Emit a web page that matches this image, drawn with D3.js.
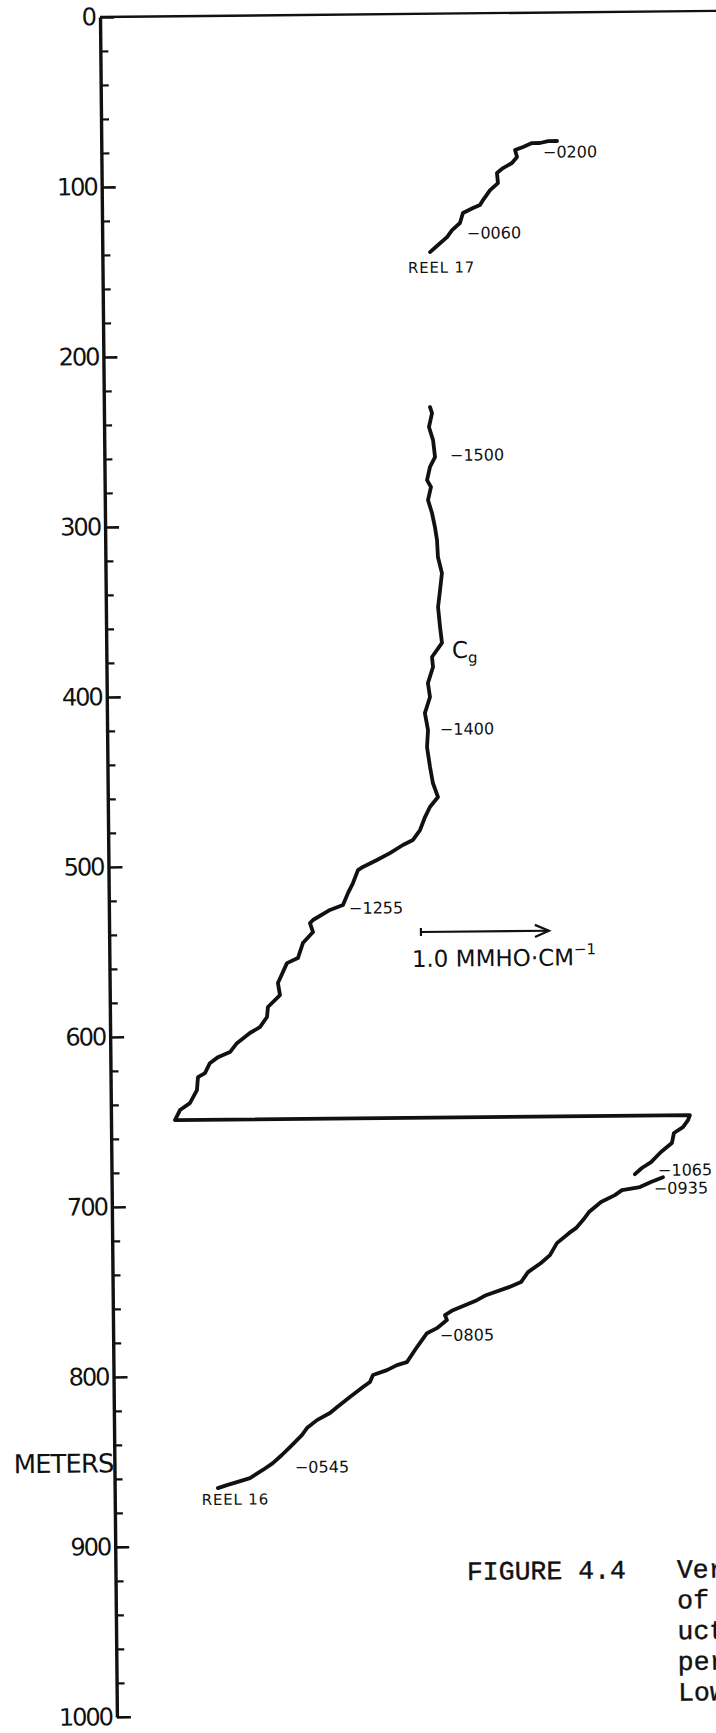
<!DOCTYPE html>
<html>
<head>
<meta charset="utf-8">
<script src="https://cdn.jsdelivr.net/npm/d3@7"></script>
<style>
  html, body { margin: 0; padding: 0; background: #fff; }
  svg { display: block; }
</style>
</head>
<body>
<svg id="chart" width="716" height="1733"></svg>
<script>
// ---- Depth axis (m) ----
const depthMajor = [0, 100, 200, 300, 400, 500, 600, 700, 800, 900, 1000];
const depthMinor = d3.range(20, 1000, 20).filter(d => d % 100 !== 0);

// ---- Conductivity traces: depth (m) and conductivity offset (mmho/cm) ----
// Reel 17, shallow piece
const reel17Depth = [75.6, 75.6, 76.7, 76.7, 78.9, 80.7, 84.8, 88.3, 91.2, 94.1, 100.0, 104.1,
  109.9, 112.8, 114.5, 117.4, 123.3, 127.4, 131.5, 136.1, 140.2];
const reel17Cond = [3.561, 3.491, 3.427, 3.365, 3.295, 3.232, 3.247, 3.207, 3.137, 3.089, 3.096, 3.034,
  2.978, 2.954, 2.899, 2.820, 2.796, 2.734, 2.694, 2.623, 2.560];

// Main trace down to the pen reset at 649 m, then the first reel-16 piece
const mainDepth = [231.4, 234.9, 243.1, 250.8, 260.8, 266.6, 274.3, 278.4, 286.1, 293.7, 302.0, 309.6,
  319.6, 329.1, 339.1, 349.1, 360.8, 370.2, 378.4, 384.3, 393.7, 401.9, 411.4, 421.4, 431.4, 443.1,
  452.5, 460.8, 466.6, 472.5, 480.1, 485.9, 488.8, 493.5, 497.5, 501.5, 503.3, 510.9, 516.8, 523.8,
  526.6, 532.4, 534.2, 539.5, 545.9, 554.7, 557.6, 569.3, 576.4, 583.3, 589.2, 595.1, 598.5, 604.4,
  609.6, 612.5, 616.0, 621.8, 624.1, 631.8, 639.4, 643.4, 649.3, 649.4, 652.3, 656.4, 659.8, 665.7,
  670.9, 676.8, 680.2, 683.8];
const mainCond = [2.548, 2.563, 2.538, 2.569, 2.583, 2.543, 2.519, 2.549, 2.525, 2.555, 2.577, 2.592,
  2.598, 2.628, 2.612, 2.595, 2.609, 2.623, 2.544, 2.551, 2.510, 2.525, 2.484, 2.507, 2.498, 2.520,
  2.541, 2.580, 2.516, 2.477, 2.437, 2.381, 2.302, 2.200, 2.098, 1.988, 1.949, 1.909, 1.869, 1.829,
  1.727, 1.594, 1.570, 1.593, 1.513, 1.473, 1.387, 1.315, 1.330, 1.235, 1.227, 1.171, 1.092, 0.990,
  0.935, 0.841, 0.777, 0.738, 0.683, 0.674, 0.618, 0.540, 0.500, 4.523, 4.508, 4.468, 4.397, 4.380,
  4.294, 4.216, 4.144, 4.089];

// Reel 16, deep piece
const reel16Depth = [685.7, 688.5, 691.4, 693.1, 696.0, 700.0, 705.8, 710.5, 715.2, 718.1, 723.9, 730.9,
  735.5, 740.8, 746.6, 749.5, 754.1, 757.0, 762.7, 765.6, 768.5, 773.2, 776.1, 784.2, 793.0, 794.7,
  797.6, 800.4, 804.5, 807.4, 813.2, 819.1, 822.5, 826.6, 831.2, 835.3, 842.3, 846.9, 851.6, 855.6,
  860.3, 862.6, 864.3, 866.0];
const reel16Cond = [4.308, 4.214, 4.127, 3.987, 3.931, 3.822, 3.727, 3.680, 3.624, 3.569, 3.474, 3.419,
  3.348, 3.246, 3.191, 3.096, 2.916, 2.845, 2.657, 2.594, 2.609, 2.530, 2.452, 2.373, 2.293, 2.215,
  2.137, 2.027, 2.003, 1.948, 1.845, 1.743, 1.688, 1.586, 1.507, 1.467, 1.373, 1.309, 1.238, 1.159,
  1.058, 0.956, 0.877, 0.807];

// ---- Time marks along the traces ----
const timeLabels = ["0200", "0060", "1500", "1400", "1255", "1065", "0935", "0805", "0545"];
const timeDepth = [82.0, 129.2, 259.7, 420.8, 525.6, 681.5, 692.1, 777.3, 854.1];
const timeCond = [3.45, 2.85, 2.70, 2.60, 1.876, 4.27, 4.236, 2.553, 1.41];

const reelLabels = ["REEL 17", "REEL 16"];
const reelDepth = [152.4, 875.9];
const reelCond = [2.386, 0.680];

// Scale bar: 1.0 mmho/cm
const scaleStart = 2.436, scaleLength = 1.0, scaleDepth = 540.1;

// Caption
const captionTitle = "FIGURE 4.4";
const captionLines = ["Ver", "of", "uct", "per", "Low"];

// ---- Scales ----
const y = d3.scaleLinear().domain([0, 1000]).range([17, 1717]);
const x = d3.scaleLinear().domain([0, 1]).range([100, 228]);

const svg = d3.select("#chart");
svg.append("rect").attr("width", 716).attr("height", 1733).attr("fill", "#fff");

// The drafted sheet sits slightly turned on the page
const g = svg.append("g").attr("transform", "rotate(-0.57,100,17)");

const ink = "#111";
const sans = "'DejaVu Sans', sans-serif";

// Top border line
g.append("line")
  .attr("x1", x(0)).attr("x2", x(5.2))
  .attr("y1", y(0)).attr("y2", y(0))
  .attr("stroke", ink).attr("stroke-width", 2.4);

// Minor ticks
const minorAxis = d3.axisLeft(y).tickValues(depthMinor).tickSizeInner(-8).tickSizeOuter(0).tickFormat("");
const gMinor = g.append("g").attr("transform", `translate(${x(0)},0)`).call(minorAxis);
gMinor.select(".domain").remove();
gMinor.selectAll(".tick line").attr("stroke", ink).attr("stroke-width", 2.2);

// Major ticks, labels and axis line
const majorAxis = d3.axisLeft(y).tickValues(depthMajor).tickSizeInner(-14).tickSizeOuter(0)
  .tickPadding(5).tickFormat(d => d);
const gMajor = g.append("g").attr("transform", `translate(${x(0)},0)`).call(majorAxis);
gMajor.select(".domain").attr("stroke", ink).attr("stroke-width", 3.4);
gMajor.selectAll(".tick line").attr("stroke", ink).attr("stroke-width", 2.6);
gMajor.selectAll(".tick text")
  .attr("fill", ink)
  .style("font-family", sans).style("font-size", "24px").style("letter-spacing", "-2px");

// Axis title
g.append("text")
  .attr("x", x(0) - 1).attr("y", y(850.6)).attr("dy", "0.36em")
  .attr("text-anchor", "end")
  .attr("fill", ink)
  .style("font-family", sans).style("font-size", "26px").style("letter-spacing", "-1px")
  .text("METERS");

// Traces
const trace = (depth, cond) => d3.line()
  .x(i => x(cond[i]))
  .y(i => y(depth[i]))(d3.range(depth.length));

[[reel17Depth, reel17Cond], [mainDepth, mainCond], [reel16Depth, reel16Cond]].forEach(([dp, cd]) => {
  g.append("path")
    .attr("d", trace(dp, cd))
    .attr("fill", "none")
    .attr("stroke", ink)
    .attr("stroke-width", 3.8)
    .attr("stroke-linejoin", "round")
    .attr("stroke-linecap", "round");
});

// Time marks
g.selectAll("text.time")
  .data(timeLabels)
  .join("text")
  .attr("class", "time")
  .attr("x", (d, i) => x(timeCond[i]))
  .attr("y", (d, i) => y(timeDepth[i]))
  .attr("dy", "0.36em")
  .attr("fill", ink)
  .style("font-family", sans).style("font-size", "16px")
  .text(d => "\u2212" + d);

// Reel labels
g.selectAll("text.reel")
  .data(reelLabels)
  .join("text")
  .attr("class", "reel")
  .attr("x", (d, i) => x(reelCond[i]))
  .attr("y", (d, i) => y(reelDepth[i]))
  .attr("fill", ink)
  .style("font-family", sans).style("font-size", "15px").style("letter-spacing", "0.8px")
  .text(d => d);

// C_g label
const cg = g.append("text")
  .attr("x", x(2.70)).attr("y", y(379.1))
  .attr("fill", ink)
  .style("font-family", sans).style("font-size", "23px");
cg.append("tspan").text("C");
cg.append("tspan").attr("dy", 5).style("font-size", "15px").text("g");

// Scale bar
const sx0 = x(scaleStart), sx1 = x(scaleStart + scaleLength), sy = y(scaleDepth);
g.append("line").attr("x1", sx0).attr("x2", sx1).attr("y1", sy).attr("y2", sy)
  .attr("stroke", ink).attr("stroke-width", 2.2);
g.append("line").attr("x1", sx0).attr("x2", sx0).attr("y1", sy - 4).attr("y2", sy + 4)
  .attr("stroke", ink).attr("stroke-width", 2.2);
g.append("path")
  .attr("d", `M${sx1 - 14},${sy - 6}L${sx1},${sy}L${sx1 - 14},${sy + 6}`)
  .attr("fill", "none").attr("stroke", ink).attr("stroke-width", 2.2)
  .attr("stroke-linejoin", "miter");
const scaleText = g.append("text")
  .attr("x", x(2.363)).attr("y", y(560.6))
  .attr("fill", ink)
  .style("font-family", sans).style("font-size", "23px");
scaleText.append("tspan").text("1.0  MMHO\u00B7CM");
scaleText.append("tspan").attr("dy", -11).style("font-size", "15px").text("\u22121");

// Caption (typewritten)
const mono = "'Liberation Mono', 'DejaVu Sans Mono', monospace";
const capY = 1583.5, capPitch = 30.7;
g.append("text")
  .attr("x", 451.4).attr("y", capY)
  .attr("fill", ink).attr("stroke", ink).attr("stroke-width", 0.4)
  .style("font-family", mono).style("font-size", "26.5px")
  .text(captionTitle);
g.selectAll("text.cap")
  .data(captionLines)
  .join("text")
  .attr("class", "cap")
  .attr("x", 661.4)
  .attr("y", (d, i) => capY + i * capPitch)
  .attr("fill", ink).attr("stroke", ink).attr("stroke-width", 0.4)
  .style("font-family", mono).style("font-size", "26.5px")
  .text(d => d);
</script>
</body>
</html>
